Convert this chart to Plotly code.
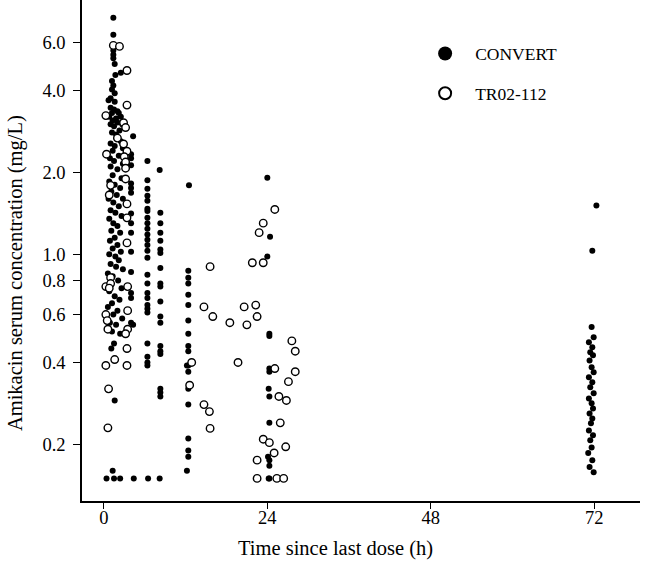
import plotly.graph_objects as go

# CONVERT (filled) — time since last dose (h), concentration (mg/L)
convert_t = [
    1.4, 1.4, 1.4, 1.4, 1.4, 1.6, 1.7, 2.5, 1.2, 1.4, 1.2, 1.6, 1.0, 0.7, 1.6, 1.0, 1.5, 2.0, 1.2, 0.8,
    1.8, 2.2, 2.5, 1.3, 2.0, 1.0, 2.7, 1.5, 2.3, 1.2, 1.8, 2.5, 1.0, 1.6, 2.8, 1.3, 2.2, 0.9, 1.5, 2.8,
    1.0, 2.0, 1.3, 2.6, 0.8, 1.6, 2.4, 1.1, 1.9, 0.7, 2.8, 1.4, 2.2, 1.0, 1.7, 2.6, 0.8, 1.4, 2.0, 1.1,
    2.4, 1.6, 0.9, 2.0, 1.3, 2.5, 0.8, 1.7, 2.2, 1.0, 1.8, 2.8, 0.6, 1.3, 2.1, 1.0, 2.6, 0.8, 1.6, 2.3,
    1.2, 0.6, 2.0, 1.4, 2.7, 0.9, 1.8, 1.2, 2.4, 1.5, 1.1, 1.6, 1.3, 0.4, 1.5, 2.4,
    4.3, 4.0, 4.0, 4.0, 4.0, 4.0, 4.0, 4.0, 4.0, 4.0, 4.0, 4.0, 4.0, 4.0, 4.0, 4.3, 4.4,
    6.4, 6.4, 6.4, 6.4, 6.4, 6.4, 6.4, 6.4, 6.4, 6.4, 6.4, 6.4, 6.4, 6.4, 6.4, 6.4, 6.4, 6.4,
    6.4, 6.4, 6.4, 6.4, 6.4, 6.4, 6.4, 6.4, 6.5,
    8.2, 8.3, 8.3, 8.3, 8.3, 8.3, 8.3, 8.3, 8.3, 8.3, 8.3, 8.3, 8.3, 8.3, 8.3, 8.3, 8.3, 8.3, 8.3,
    8.2,
    12.5, 12.4, 12.4, 12.4, 12.4, 12.4, 12.4, 12.4, 12.4, 12.4, 12.4, 12.4, 12.2, 12.4, 12.4, 12.4,
    12.4, 12.4, 12.2,
    24.0, 24.4, 24.0, 24.3, 24.3, 24.3, 24.3, 24.2, 24.3, 24.3, 24.1, 24.3, 24.3, 24.2, 24.3,
    72.3, 71.7, 71.6, 71.9, 71.2, 71.7, 71.4, 71.8, 71.3, 71.6, 71.9, 71.2, 71.7, 71.4, 71.9, 71.2,
    71.6, 71.8, 71.3, 71.7, 71.5, 71.2, 71.8, 71.4, 71.6, 71.1, 71.7, 71.3, 71.9,
]
convert_c = [
    7.4, 6.4, 5.6, 5.4, 5.25, 5.0, 4.55, 4.64, 4.33, 4.17, 4.03, 3.9, 3.74, 3.68, 3.63, 3.45, 3.4, 3.35, 3.3, 3.2,
    3.15, 3.3, 3.2, 3.1, 3.05, 3.0, 3.0, 2.95, 2.85, 2.8, 2.75, 2.6, 2.55, 2.5, 2.45, 2.4, 2.3, 2.25, 2.2, 2.15,
    2.1, 2.05, 1.95, 1.9, 1.85, 1.8, 1.75, 1.7, 1.65, 1.6, 1.6, 1.55, 1.5, 1.45, 1.42, 1.38, 1.35, 1.3, 1.27, 1.22,
    1.2, 1.15, 1.12, 1.08, 1.05, 1.02, 1.0, 0.98, 0.95, 0.92, 0.9, 0.88, 0.85, 0.83, 0.8, 0.78, 0.75, 0.73, 0.7, 0.68,
    0.66, 0.64, 0.62, 0.6, 0.58, 0.56, 0.55, 0.52, 0.51, 0.47, 0.45, 0.29, 0.16, 0.15, 0.15, 0.15,
    2.71, 2.33, 2.25, 2.12, 1.82, 1.75, 1.68, 1.41, 1.30, 1.20, 1.02, 0.86, 0.72, 0.69, 0.56, 0.55, 0.15,
    2.2, 1.87, 1.74, 1.64, 1.57, 1.47, 1.44, 1.36, 1.30, 1.24, 1.18, 1.13, 1.08, 1.03, 0.97, 0.84, 0.78, 0.72,
    0.69, 0.65, 0.63, 0.61, 0.47, 0.42, 0.40, 0.39, 0.15,
    2.04, 1.42, 1.30, 1.20, 1.12, 1.04, 1.01, 0.89, 0.78, 0.76, 0.67, 0.59, 0.56, 0.46, 0.44, 0.43, 0.32, 0.31, 0.30,
    0.15,
    1.79, 0.87, 0.82, 0.78, 0.71, 0.65, 0.57, 0.51, 0.46, 0.44, 0.39, 0.37, 0.39, 0.32, 0.28, 0.21,
    0.19, 0.18, 0.16,
    1.91, 1.16, 0.98, 0.51, 0.50, 0.38, 0.37, 0.32, 0.30, 0.24, 0.18, 0.175, 0.167, 0.15, 0.15,
    1.51, 1.03, 0.54, 0.495, 0.475, 0.455, 0.436, 0.425, 0.407, 0.384, 0.368, 0.353, 0.338, 0.324, 0.308, 0.295,
    0.283, 0.271, 0.260, 0.249, 0.239, 0.225, 0.216, 0.207, 0.195, 0.186, 0.175, 0.165, 0.158,
]

# TR02-112 (open)
tr_t = [
    1.4, 2.3, 3.4, 3.4, 0.3, 2.9, 3.2, 2.0, 2.9, 0.4, 3.4, 3.0, 3.2, 3.2, 3.2, 1.0, 0.8, 3.4, 3.4, 3.4,
    1.0, 0.3, 1.0, 3.5, 0.8, 3.5, 0.3, 0.5, 0.6, 3.5, 3.2, 3.4, 1.6, 0.3, 3.4, 0.7, 0.6,
    15.6, 25.1, 23.4, 22.8, 21.8, 23.4, 14.7, 16.0, 18.5, 20.6, 22.3, 21.0, 22.5,
    27.6, 28.1, 12.9, 19.7, 25.1, 28.1, 27.1, 12.6, 25.7, 26.8, 14.7, 15.5, 15.6, 25.9, 23.4, 24.3,
    26.7, 25.0, 22.5, 22.5, 25.4, 26.4,
]
tr_c = [
    5.85, 5.8, 4.73, 3.53, 3.23, 3.04, 2.92, 2.67, 2.54, 2.33, 2.39, 2.28, 2.18, 2.07, 1.89, 1.79, 1.65, 1.53, 1.36, 1.10,
    0.82, 0.76, 0.78, 0.76, 0.75, 0.62, 0.60, 0.57, 0.53, 0.53, 0.51, 0.45, 0.41, 0.39, 0.39, 0.32, 0.23,
    0.90, 1.46, 1.30, 1.20, 0.93, 0.93, 0.64, 0.59, 0.56, 0.64, 0.65, 0.55, 0.59,
    0.48, 0.44, 0.40, 0.40, 0.38, 0.37, 0.34, 0.33, 0.30, 0.29, 0.28, 0.264, 0.229, 0.24, 0.209, 0.203,
    0.196, 0.186, 0.175, 0.15, 0.15, 0.15,
]

series_names = ["CONVERT", "TR02-112"]
x_ticks = [0, 24, 48, 72]
y_ticks = [0.2, 0.4, 0.6, 0.8, 1.0, 2.0, 4.0, 6.0]
y_tick_labels = ["0.2", "0.4", "0.6", "0.8", "1.0", "2.0", "4.0", "6.0"]
x_title = "Time since last dose (h)"
y_title = "Amikacin serum concentration (mg/L)"

FONT = "Liberation Serif, Times New Roman, serif"

fig = go.Figure()
fig.add_trace(go.Scatter(
    x=convert_t, y=convert_c, mode="markers", showlegend=False, hoverinfo="skip",
    marker=dict(symbol="circle", size=6, color="black", line=dict(width=0)),
))
fig.add_trace(go.Scatter(
    x=tr_t, y=tr_c, mode="markers", showlegend=False, hoverinfo="skip",
    marker=dict(symbol="circle", size=7.5, color="white", line=dict(width=1.4, color="black")),
))
# legend-only proxies with larger symbols
fig.add_trace(go.Scatter(
    x=[None], y=[None], mode="markers", name=series_names[0], legendgroup="a",
    marker=dict(symbol="circle", size=14, color="black", line=dict(width=0)),
))
fig.add_trace(go.Scatter(
    x=[None], y=[None], mode="markers", name=series_names[1], legendgroup="b",
    marker=dict(symbol="circle", size=12, color="white", line=dict(width=2, color="black")),
))

fig.update_layout(
    width=646, height=561,
    margin=dict(l=82, r=6, t=0, b=60),
    paper_bgcolor="white", plot_bgcolor="white",
    font=dict(family=FONT, size=17, color="black"),
    legend=dict(
        x=0.597, y=0.929, xanchor="left", yanchor="top",
        bgcolor="rgba(0,0,0,0)", font=dict(family=FONT, size=17.5, color="black"),
        tracegroupgap=14, itemsizing="trace", itemwidth=50,
    ),
    showlegend=True,
    annotations=[
        dict(text=x_title, xref="paper", yref="paper", x=0.455, y=-0.095,
             xanchor="center", yanchor="middle", showarrow=False,
             font=dict(family=FONT, size=20.5, color="black")),
        dict(text=y_title, xref="paper", yref="paper", x=-0.12, y=0.455,
             xanchor="center", yanchor="middle", showarrow=False, textangle=-90,
             font=dict(family=FONT, size=20.5, color="black")),
    ],
)
fig.update_xaxes(
    range=[-3.2, 78.7], tickvals=x_ticks, ticktext=[str(v) for v in x_ticks],
    showgrid=False, zeroline=False, showline=True, linecolor="black", linewidth=1.5,
    ticks="outside", ticklen=6, tickwidth=1.2, tickcolor="black", ticklabelstandoff=-7,
    tickfont=dict(family=FONT, size=18.5),
)
fig.update_yaxes(
    type="log", range=[-0.907, 0.934], tickvals=y_ticks, ticktext=y_tick_labels,
    showgrid=False, zeroline=False, showline=True, linecolor="black", linewidth=1.5,
    ticks="outside", ticklen=7, tickwidth=1.2, tickcolor="black", ticklabelstandoff=4,
    tickfont=dict(family=FONT, size=18.5),
)

fig.write_html("out.html", config={"displayModeBar": False},
               post_script="document.body.style.margin='0px';")
